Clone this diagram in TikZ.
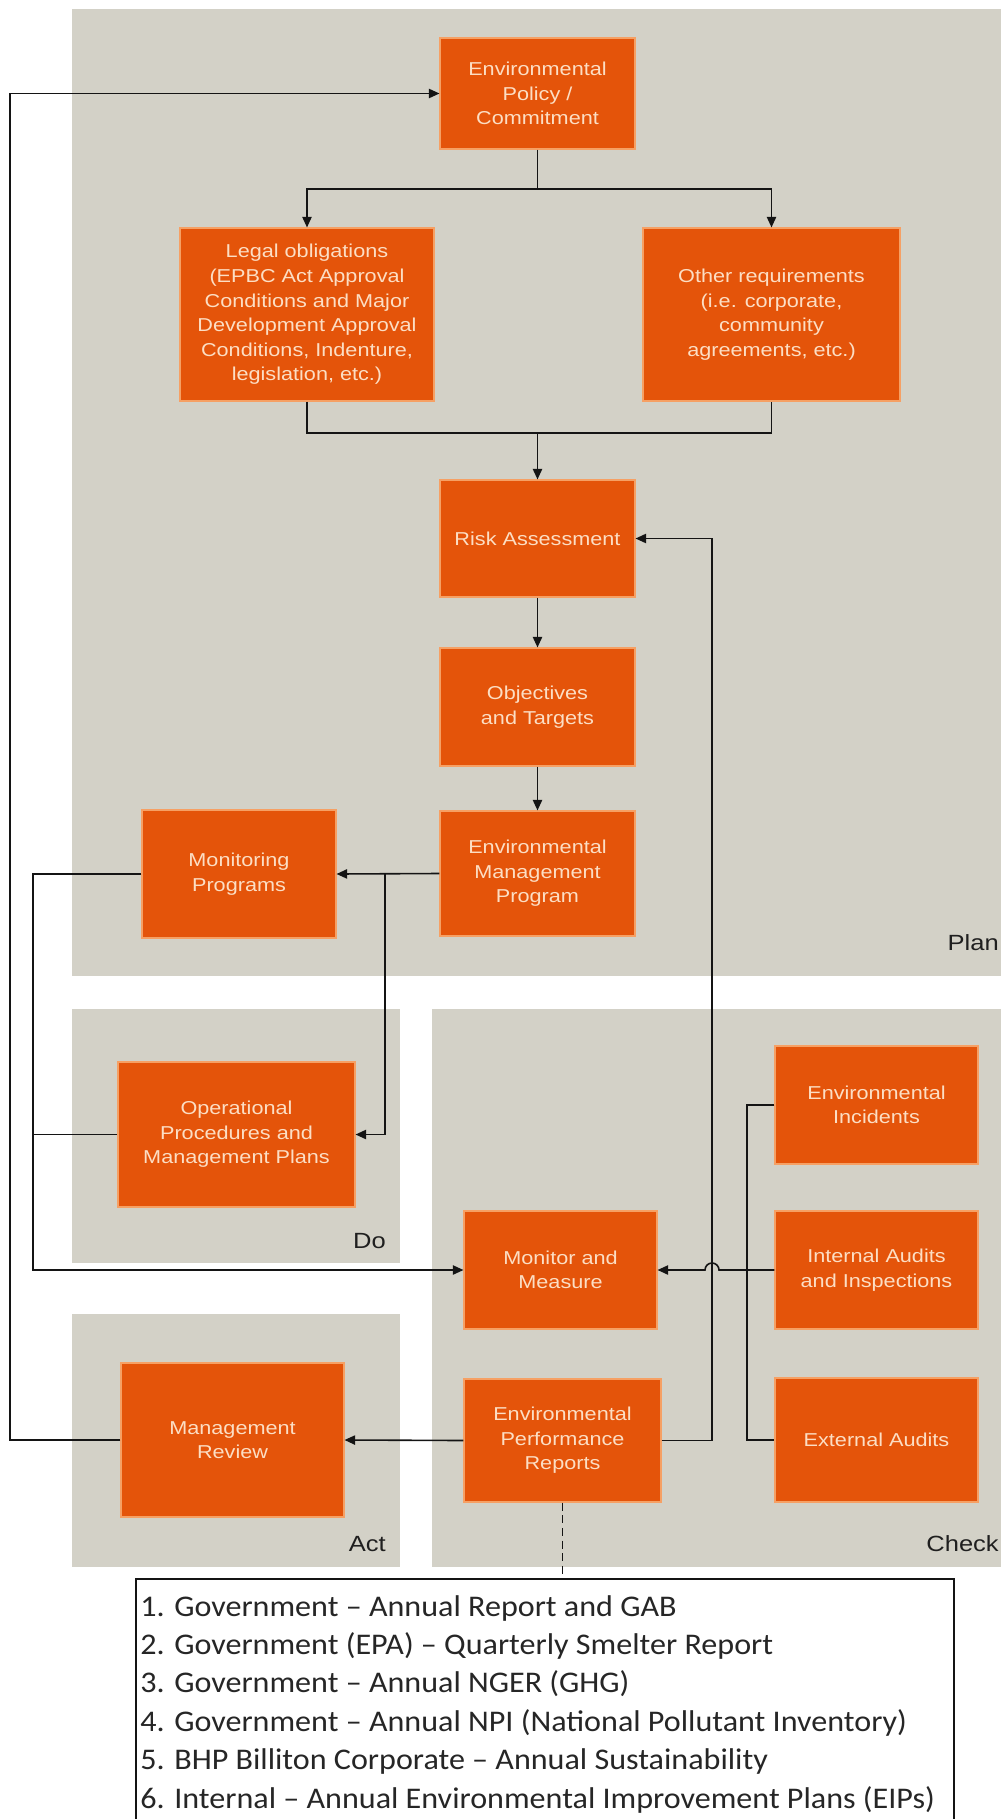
\documentclass[tikz,border=0pt]{standalone}
\usepackage{fontspec}
\usetikzlibrary{arrows.meta}
\newfontfamily\boxfont{Liberation Sans}[FakeStretch=1.16]
\newfontfamily\listfont{Carlito}[FakeStretch=1.07]
\definecolor{panelgray}{RGB}{211,209,199}
\definecolor{boxorange}{RGB}{228,84,10}
\definecolor{boxedge}{RGB}{246,160,100}
\definecolor{boxtext}{RGB}{252,222,196}
\definecolor{linecol}{RGB}{20,20,20}
\tikzset{
  panel/.style={fill=panelgray, draw=none},
  obox/.style={fill=boxorange, draw=boxedge, line width=0.8pt, inner sep=0pt,
    align=center, text=boxtext, font=\boxfont\fontsize{14}{18.4}\selectfont},
  conn/.style={draw=linecol, line width=1.2pt},
  arr/.style={conn, -{Triangle[length=8pt,width=7pt]}},
  phase/.style={font=\boxfont\fontsize{16.5}{18}\selectfont, text=black!88, inner sep=0pt},
  listline/.style={font=\listfont\fontsize{22.5}{26}\selectfont, text=black!85, inner sep=0pt, anchor=base west}
}
\begin{document}
\begin{tikzpicture}[x=0.75pt,y=-0.75pt]
\useasboundingbox (0,0) rectangle (1000,1819);
\fill[white] (0,0) rectangle (1000,1819);
% panels
\fill[panel] (72,9) rectangle (1005,976);
\fill[panel] (72,1009) rectangle (400,1263);
\fill[panel] (72,1314) rectangle (400,1567);
\fill[panel] (432,1009) rectangle (1005,1567);
\node[phase, anchor=base east] (lplan) at (999,950) {Plan};
\node[phase, anchor=base east] (ldo) at (386,1248) {Do};
\node[phase, anchor=base east] (lact) at (386,1551) {Act};
\node[phase, anchor=base east] (lcheck) at (999,1551) {Check};
% boxes
\node[obox, minimum width=146.25pt, minimum height=83.25pt] (policy) at (537.5,93.5) {Environmental\\Policy /\\Commitment};
\node[obox, minimum width=190.5pt, minimum height=129.75pt] (legal) at (307,314.5) {Legal obligations\\(EPBC Act Approval\\Conditions and Major\\Development Approval\\Conditions, Indenture,\\legislation, etc.)};
\node[obox, minimum width=192.75pt, minimum height=129.75pt] (other) at (771.5,314.5) {Other requirements\\(i.e. corporate,\\community\\agreements, etc.)};
\node[obox, minimum width=146.25pt, minimum height=87.75pt] (risk) at (537.5,538.5) {Risk Assessment};
\node[obox, minimum width=146.25pt, minimum height=88.5pt] (obj) at (537.5,707) {Objectives\\and Targets};
\node[obox, minimum width=146.25pt, minimum height=93.75pt] (emp) at (537.5,873.5) {Environmental\\Management\\Program};
\node[obox, minimum width=145.5pt, minimum height=96pt] (mon) at (239,874) {Monitoring\\Programs};
\node[obox, minimum width=177.75pt, minimum height=108.75pt] (ops) at (236.5,1134.5) {Operational\\Procedures and\\Management Plans};
\node[obox, minimum width=152.25pt, minimum height=88.5pt] (inc) at (876.5,1105) {Environmental\\Incidents};
\node[obox, minimum width=152.25pt, minimum height=88.5pt] (int) at (876.5,1270) {Internal Audits\\and Inspections};
\node[obox, minimum width=152.25pt, minimum height=93pt] (ext) at (876.5,1440) {External Audits};
\node[obox, minimum width=144.75pt, minimum height=88.5pt] (mm) at (560.5,1270) {Monitor and\\Measure};
\node[obox, minimum width=147.75pt, minimum height=92.25pt] (epr) at (562.5,1440.5) {Environmental\\Performance\\Reports};
\node[obox, minimum width=167.25pt, minimum height=115.5pt] (mr) at (232.5,1440) {Management\\Review};
% list box
\coordinate (lt) at (562.5,1579);
\draw[draw=linecol, line width=1pt] (136,1830) -- (136,1579) -- (954,1579) -- (954,1830);
\node[listline] (l1) at (140,1616) {1. Government – Annual Report and GAB};
\node[listline] (l2) at (140,1654.4) {2. Government (EPA) – Quarterly Smelter Report};
\node[listline] (l3) at (140,1692.8) {3. Government – Annual NGER (GHG)};
\node[listline] (l4) at (140,1731.2) {4. Government – Annual NPI (National Pollutant Inventory)};
\node[listline] (l5) at (140,1769.6) {5. BHP Billiton Corporate – Annual Sustainability};
\node[listline] (l6) at (140,1808) {6. Internal – Annual Environmental Improvement Plans (EIPs)};
% connectors
\coordinate (t1) at (537.5,189);
\draw[conn] (policy.south) -- (t1);
\draw[arr] (t1) -| (legal.north);
\draw[arr] (t1) -| (other.north);
\coordinate (t2) at (537.5,433);
\draw[conn] (legal.south) |- (t2) -| (other.south);
\draw[arr] (t2) -- (risk.north);
\draw[arr] (risk.south) -- (obj.north);
\draw[arr] (obj.south) -- (emp.north);
\draw[arr] (emp.west) -- (mon.east);
\coordinate (j1) at (385,874);
\draw[arr] (j1) |- (ops.east);
\coordinate (L1) at (33,874);
\draw[arr] (mon.west) -- (L1) |- (mm.west);
\draw[conn] (ops.west) -- (L1 |- ops.west);
\coordinate (L0) at (10,93.5);
\draw[arr] (mr.west) -| (L0) -- (policy.west);
\draw[arr] (epr.west) -- (mr.east);
\coordinate (R1) at (712,1440.5);
\draw[arr] (epr.east) -- (R1) |- (risk.east);
\coordinate (B1) at (747,1105);
\draw[conn] (inc.west) -- (B1) -- (B1 |- ext.west) -- (ext.west);
\coordinate (h1) at (719,1270);
\draw[arr] (int.west) -- (h1) arc[start angle=0, end angle=180, radius=5.25pt] -- (mm.east);
\draw[conn, dash pattern=on 6pt off 3.5pt] (epr.south) -- (lt);
\end{tikzpicture}
\end{document}
